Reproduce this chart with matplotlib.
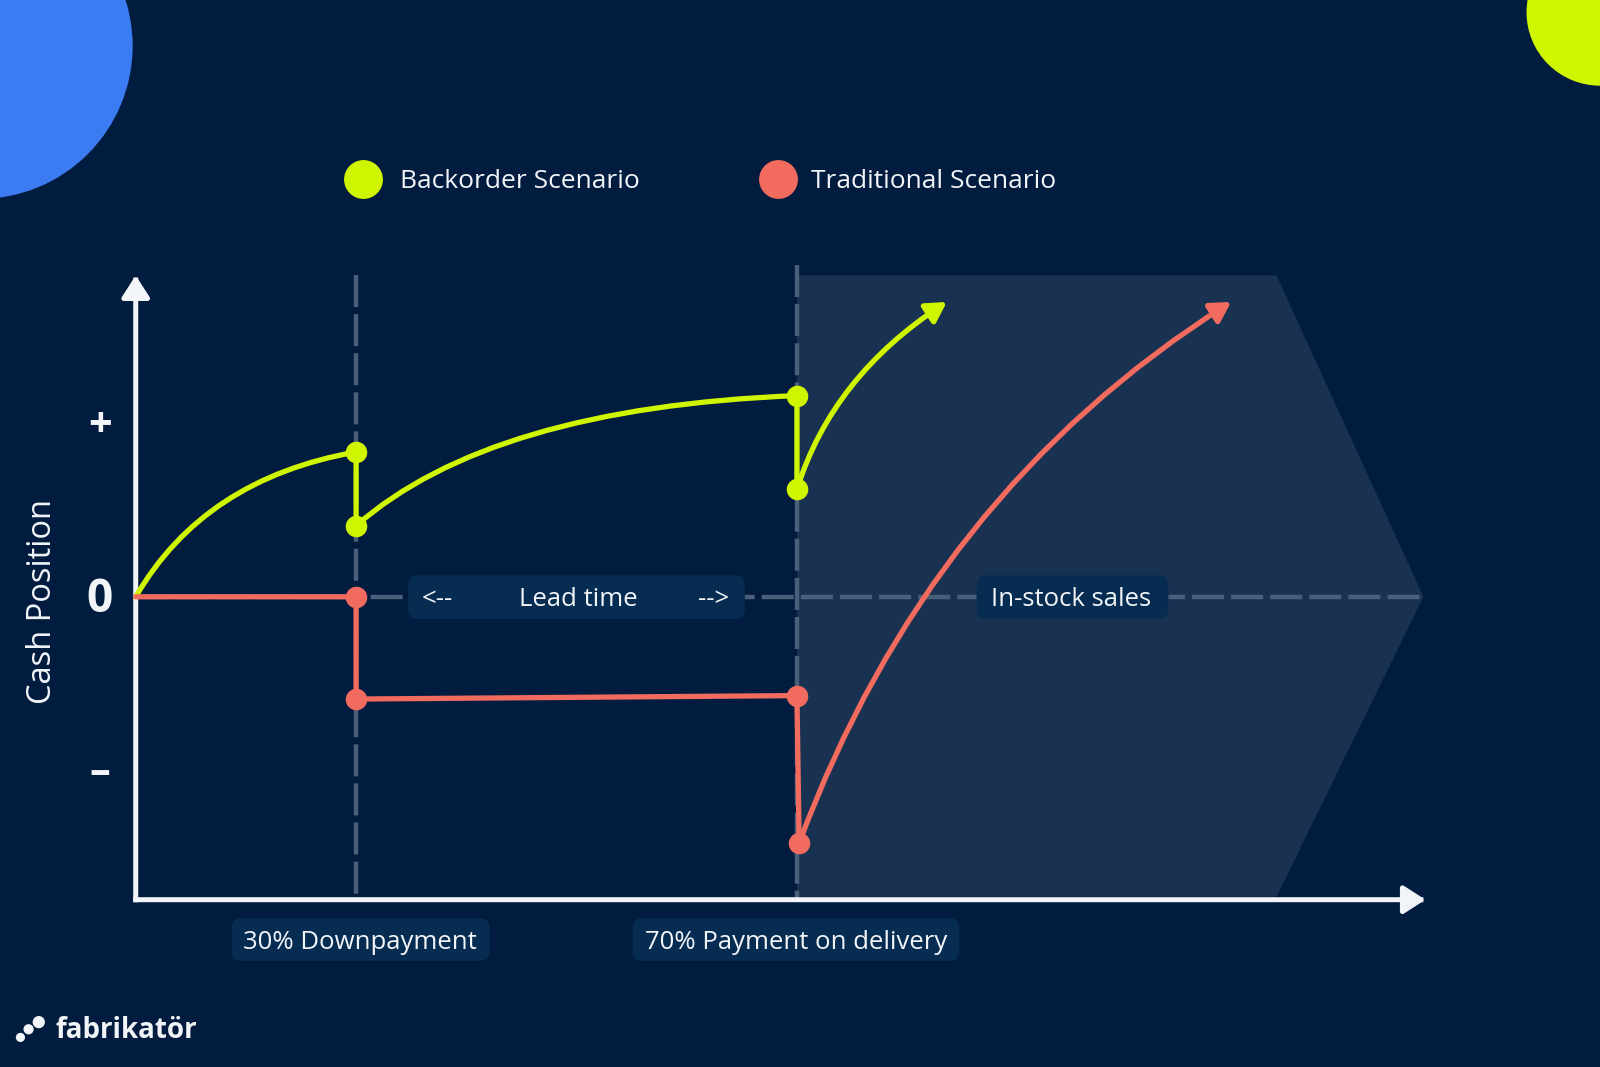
"""
Cash position over time: backorder vs traditional purchasing scenario.

Output: out.png
"""

import matplotlib.pyplot as plt
from matplotlib.patches import Ellipse, FancyArrowPatch, FancyBboxPatch, PathPatch, Polygon
from matplotlib.path import Path

# --- data (time in milestone units, cash in arbitrary units) ---
DOWNPAYMENT_T = 1.0
DELIVERY_T = 3.0

backorder_t = [0.0, 1.0, 1.0, 3.0, 3.0, 3.68]
backorder_cash = [0.0, 0.835, 0.41, 1.16, 0.62, 1.70]
# bend (quadratic control) points of the three curved stretches
backorder_bend_t = [0.31, 1.61, 3.16]
backorder_bend_cash = [0.68, 1.09, 1.27]

traditional_t = [0.0, 1.0, 1.0, 3.0, 3.01, 4.97]
traditional_cash = [0.0, 0.0, -0.59, -0.57, -1.42, 1.70]
traditional_bend_t = [3.60]
traditional_bend_cash = [0.60]

tick_cash = [1.0, 0.0, -1.0]
tick_labels = ['+', '0', '–']

legend_labels = ['Backorder Scenario', 'Traditional Scenario']
milestone_labels = ['30% Downpayment', '70% Payment on delivery']

# --- style ---
BG = '#021c3f'
LIME = '#d0f500'
CORAL = '#f26b5f'
WHITE = '#f2f5f8'
SHADE = '#1a3251'
DASH = '#4b5f7b'
BOX = '#072c52'
BLUE = '#3b7cf2'
FONT = 'Open Sans'
LABEL_SIZE = 18.5
NUDGE = 3  # px, text sits a bit low in the reference

plt.rcParams['font.family'] = [FONT, 'DejaVu Sans']


# layout helpers: reference pixel position -> data units
def px(x):
    return (x - 133) / 216


def py(y):
    return (585 - y) / 170


def label_box(ax, x0, x1, y0, y1, zorder=4):
    ax.add_patch(FancyBboxPatch(
        (px(x0), py(y1)), px(x1) - px(x0), py(y0) - py(y1),
        boxstyle='round,pad=0,rounding_size=0.045', mutation_aspect=1.27,
        facecolor=BOX, edgecolor='none', zorder=zorder))


def main():
    fig = plt.figure(figsize=(16, 10.67), dpi=100, facecolor=BG)
    ax = fig.add_axes([0, 0, 1, 1])
    ax.set_facecolor(BG)
    ax.set_xlim(px(0), px(1568))
    ax.set_ylim(py(1046), py(0))
    ax.axis('off')

    # decorative circles
    ax.add_patch(Ellipse((px(-20), py(45)), 300 / 216, 300 / 170,
                         color=BLUE, zorder=0, lw=0))
    ax.add_patch(Ellipse((px(1568), py(12)), 144 / 216, 144 / 170,
                         color=LIME, zorder=0, lw=0))

    x_end = px(1397)
    y_top = py(270)
    y_axis = py(882)

    # in-stock sales region
    ax.add_patch(Polygon([(DELIVERY_T, y_top), (px(1251), y_top), (px(1395), 0),
                          (px(1251), py(879)), (DELIVERY_T, py(879))],
                         closed=True, facecolor=SHADE, edgecolor='none', zorder=1))

    # milestone and zero guides
    dash = (0, (7.2, 1.6))
    ax.plot([0, x_end], [0, 0], color=DASH, lw=3.2, ls=dash, zorder=2)
    ax.plot([DOWNPAYMENT_T, DOWNPAYMENT_T], [y_top, y_axis], color=DASH, lw=3.2,
            ls=dash, zorder=2)
    ax.plot([DELIVERY_T, DELIVERY_T], [py(260), y_axis], color=DASH, lw=3.2,
            ls=dash, zorder=2)

    # axes with arrow heads
    for start, end in [((0, y_axis), (0, y_top)), ((0, y_axis), (x_end, y_axis))]:
        ax.add_patch(FancyArrowPatch(
            start, end, arrowstyle='-|>,head_length=0.7,head_width=0.45',
            mutation_scale=19, color=WHITE, lw=3.6, shrinkA=0, shrinkB=0,
            joinstyle='round', capstyle='projecting', zorder=5))

    # labels on the chart
    mid = py(585 + NUDGE)
    label_box(ax, 400, 730, 564, 607)
    ax.text(px(429), mid, '<--', color=WHITE, fontsize=LABEL_SIZE, ha='center', va='center', zorder=6)
    ax.text(px(567), mid, 'Lead time', color=WHITE, fontsize=LABEL_SIZE, ha='center', va='center', zorder=6)
    ax.text(px(699), mid, '-->', color=WHITE, fontsize=LABEL_SIZE, ha='center', va='center', zorder=6)

    label_box(ax, 957, 1145, 564, 607)
    ax.text(px(1050), mid, 'In-stock sales', color=WHITE, fontsize=LABEL_SIZE,
            ha='center', va='center', zorder=6)

    label_box(ax, 227, 480, 900, 942)
    ax.text(px(353), py(921 + NUDGE), milestone_labels[0], color=WHITE, fontsize=LABEL_SIZE,
            ha='center', va='center', zorder=6)
    label_box(ax, 620, 940, 900, 942)
    ax.text(px(780), py(921 + NUDGE), milestone_labels[1], color=WHITE, fontsize=LABEL_SIZE,
            ha='center', va='center', zorder=6)

    # cash axis ticks and label
    for v, lab in zip(tick_cash, tick_labels):
        ax.text(px(98), v - NUDGE / 170, lab, color=WHITE, fontsize=33 if lab == '0' else 30,
                fontweight='bold', ha='center', va='center', zorder=6)
    ax.text(px(42), py(590), 'Cash Position', color=WHITE, fontsize=23.5,
            rotation=90, ha='center', va='center', zorder=6)

    # backorder scenario
    bt, bc = backorder_t, backorder_cash
    verts = [(bt[0], bc[0]), (backorder_bend_t[0], backorder_bend_cash[0]), (bt[1], bc[1]),
             (bt[2], bc[2]), (backorder_bend_t[1], backorder_bend_cash[1]), (bt[3], bc[3]),
             (bt[4], bc[4])]
    codes = [Path.MOVETO, Path.CURVE3, Path.CURVE3, Path.LINETO,
             Path.CURVE3, Path.CURVE3, Path.LINETO]
    ax.add_patch(PathPatch(Path(verts, codes), facecolor='none', edgecolor=LIME,
                           lw=3.8, capstyle='round', joinstyle='round', zorder=7))
    tail = Path([(bt[4], bc[4]), (backorder_bend_t[2], backorder_bend_cash[2]), (bt[5], bc[5])],
                [Path.MOVETO, Path.CURVE3, Path.CURVE3])
    ax.add_patch(FancyArrowPatch(path=tail, arrowstyle='-|>,head_length=0.7,head_width=0.4',
                                 mutation_scale=17, color=LIME, lw=3.8,
                                 capstyle='round', joinstyle='round', zorder=7))
    ax.plot(bt[1:5], bc[1:5], 'o', color=LIME, ms=15.5, mec='none', zorder=8)

    # traditional scenario
    tt, tc = traditional_t, traditional_cash
    ax.plot(tt[:5], tc[:5], color=CORAL, lw=3.8, solid_joinstyle='round',
            solid_capstyle='round', zorder=7)
    tail = Path([(tt[4], tc[4]), (traditional_bend_t[0], traditional_bend_cash[0]), (tt[5], tc[5])],
                [Path.MOVETO, Path.CURVE3, Path.CURVE3])
    ax.add_patch(FancyArrowPatch(path=tail, arrowstyle='-|>,head_length=0.7,head_width=0.4',
                                 mutation_scale=17, color=CORAL, lw=3.8,
                                 capstyle='round', joinstyle='round', zorder=7))
    ax.plot(tt[1:5], tc[1:5], 'o', color=CORAL, ms=15.5, mec='none', zorder=8)

    # legend
    for x_dot, x_txt, col, lab in [(356, 392, LIME, legend_labels[0]),
                                   (762, 795, CORAL, legend_labels[1])]:
        ax.plot([px(x_dot)], [py(175)], 'o', color=col, ms=28, mec='none', zorder=8)
        ax.text(px(x_txt), py(175 + NUDGE), lab, color=WHITE, fontsize=19,
                ha='left', va='center', zorder=8)

    # logo
    for (lx, ly, r) in [(20, 1017, 4.5), (28, 1009, 5), (38, 1002, 6)]:
        ax.add_patch(Ellipse((px(lx), py(ly)), 2 * r / 216, 2 * r / 170,
                             color=WHITE, lw=0, zorder=8))
    ax.text(px(54), py(1010), 'fabrikatör', color=WHITE, fontsize=20,
            fontweight='bold', ha='left', va='center', zorder=8)

    fig.savefig('out.png', dpi=100, facecolor=BG)


if __name__ == '__main__':
    main()
